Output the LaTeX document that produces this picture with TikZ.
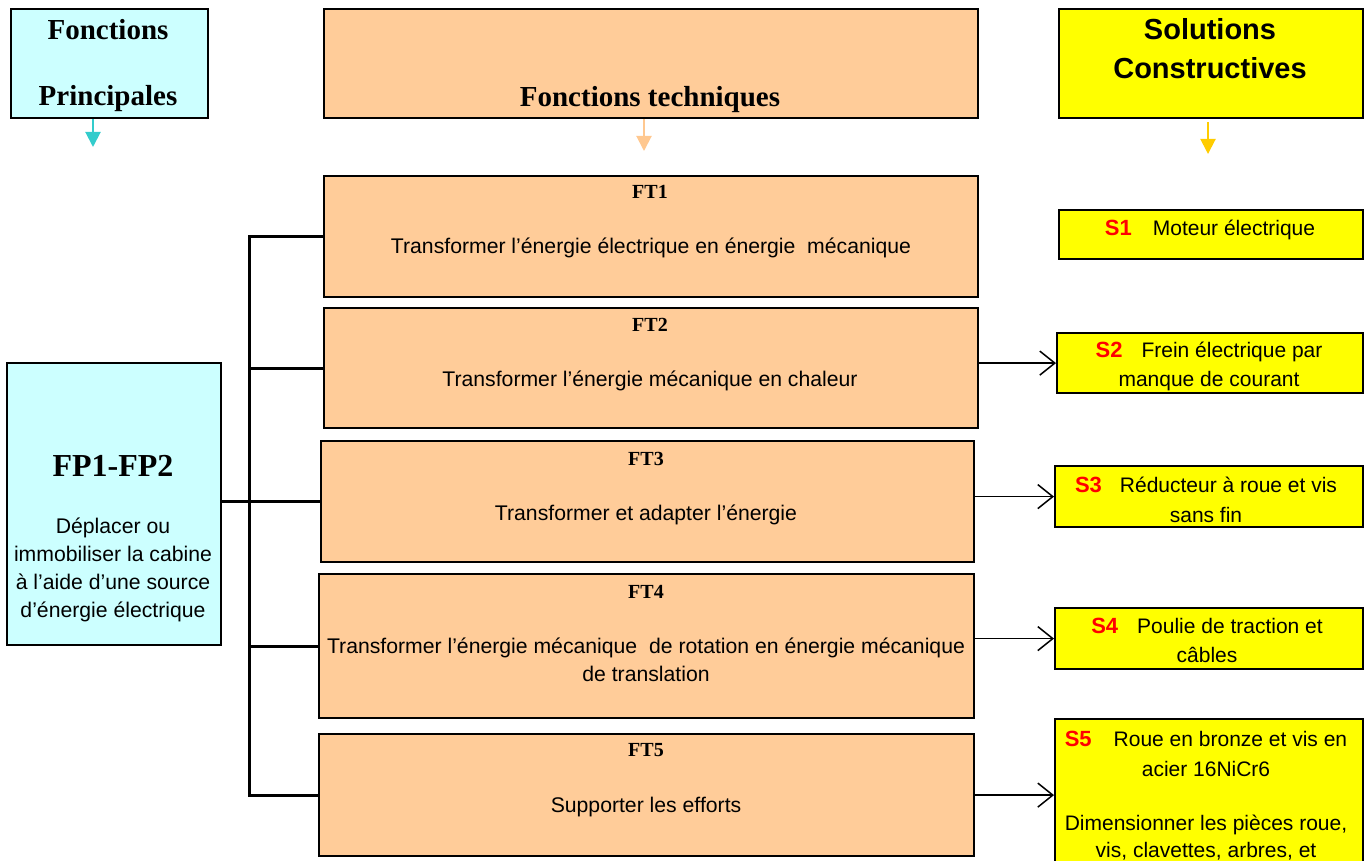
\documentclass[tikz,border=0pt]{standalone}
\usepackage{fontspec}
\setmainfont{Liberation Sans}
\newfontfamily\titlefont{Liberation Serif}
\usetikzlibrary{arrows.meta}
\definecolor{fpcyan}{HTML}{CCFFFF}
\definecolor{ftorange}{HTML}{FFCC99}
\definecolor{scyellow}{HTML}{FFFF00}
\definecolor{cyanarrow}{HTML}{33CCCC}
\definecolor{orangearrow}{HTML}{FFC890}
\definecolor{yellowarrow}{HTML}{FFCC00}
\newcommand{\slab}[1]{{\color{red}\bfseries\fontsize{22}{29}\selectfont #1}}
\begin{document}
\begin{tikzpicture}[x=1pt,y=-1pt,
    box/.style={draw,line width=2.2pt,rectangle,inner sep=0pt,anchor=north west},
    fpbox/.style={box,fill=fpcyan},
    ftbox/.style={box,fill=ftorange},
    scbox/.style={box,fill=scyellow},
    txt/.style={inner sep=0pt,anchor=base,align=center},
    headtext/.style={txt,font=\titlefont\bfseries\fontsize{29}{39}\selectfont},
    sctext/.style={txt,font=\bfseries\fontsize{29}{39}\selectfont},
    ftlabel/.style={txt,font=\titlefont\bfseries\fontsize{20}{24}\selectfont},
    bodytext/.style={txt,font=\fontsize{21.2}{28}\selectfont},
    soltext/.style={txt,font=\fontsize{21}{29}\selectfont},
    headarrow/.style={line width=2pt,-{Triangle[length=15pt,width=15pt]}},
    link/.style={line width=3pt},
    solarrow/.style={line width=1.5pt,-{Straight Barb[length=15pt,width=24pt,line width=1.5pt]}}]
    \useasboundingbox (0,0) rectangle (1367,861);
    \clip (0,0) rectangle (1367,861);
    % headers
    \node[fpbox,minimum width=197,minimum height=109] (fphead) at (10,8) {};
    \node[headtext] (fphead1) at (108,40) {Fonctions};
    \node[headtext] (fphead2) at (108,106) {Principales};
    \node[ftbox,minimum width=654,minimum height=109] (fthead) at (323,8) {};
    \node[headtext] (fthead1) at (650,107) {Fonctions techniques};
    \node[scbox,minimum width=304,minimum height=109] (schead) at (1058,8) {};
    \node[sctext] (schead1) at (1210,40) {Solutions};
    \node[sctext] (schead2) at (1210,79) {Constructives};
    \coordinate (fpend) at (93,147);
    \coordinate (ftend) at (644,151);
    \coordinate (scend) at (1208,154);
    \draw[headarrow,cyanarrow] (fphead.south -| fpend) -- (fpend);
    \draw[headarrow,orangearrow] (fthead.south -| ftend) -- (ftend);
    \draw[headarrow,yellowarrow,shorten <=3pt] (schead.south -| scend) -- (scend);
    % fonction principale
    \node[fpbox,minimum width=214,minimum height=282] (fp) at (6,362) {};
    \node[txt,font=\titlefont\bfseries\fontsize{32}{38}\selectfont] (fptitle) at (113,476) {FP1-FP2};
    \node[bodytext] (fptext) at (113,617) {Déplacer ou\\immobiliser la cabine\\à l’aide d’une source\\d’énergie électrique};
    % fonctions techniques
    \node[ftbox,minimum width=654,minimum height=121] (ft1) at (323,175) {};
    \node[ftlabel] (ft1lab) at (650,199) {FT1};
    \node[bodytext] (ft1text) at (651,253) {Transformer l’énergie électrique en énergie~ mécanique};
    \node[ftbox,minimum width=654,minimum height=120] (ft2) at (323,307) {};
    \node[ftlabel] (ft2lab) at (650,331) {FT2};
    \node[bodytext] (ft2text) at (650,386) {Transformer l’énergie mécanique en chaleur};
    \node[ftbox,minimum width=653,minimum height=121] (ft3) at (320,440) {};
    \node[ftlabel] (ft3lab) at (646,465) {FT3};
    \node[bodytext] (ft3text) at (646,520) {Transformer et adapter l’énergie};
    \node[ftbox,minimum width=655,minimum height=144] (ft4) at (318,573) {};
    \node[ftlabel] (ft4lab) at (646,598) {FT4};
    \node[bodytext] (ft4text) at (646,681) {Transformer l’énergie mécanique~ de rotation en énergie mécanique\\de translation};
    \node[ftbox,minimum width=655,minimum height=122] (ft5) at (318,733) {};
    \node[ftlabel] (ft5lab) at (646,756) {FT5};
    \node[bodytext] (ft5text) at (646,812) {Supporter les efforts};
    % solutions constructives
    \node[scbox,minimum width=304,minimum height=49] (s1) at (1058,209) {};
    \node[soltext] (s1text) at (1210,235) {\slab{S1}\hspace{21pt}Moteur électrique};
    \node[scbox,minimum width=306,minimum height=60] (s2) at (1056,332) {};
    \node[soltext] (s2text) at (1209,386) {\slab{S2}\hspace{19pt}Frein électrique par\\manque de courant};
    \node[scbox,minimum width=308,minimum height=61] (s3) at (1054,465) {};
    \node[soltext] (s3text) at (1206,522) {\slab{S3}\hspace{18pt}Réducteur à roue et vis\\[1pt]sans fin};
    \node[scbox,minimum width=308,minimum height=61] (s4) at (1054,607) {};
    \node[soltext] (s4text) at (1207,662) {\slab{S4}\hspace{19pt}Poulie de traction et\\câbles};
    \node[scbox,minimum width=308,minimum height=200] (s5) at (1054,718) {};
    \node[soltext] (s5text) at (1206,857) {\slab{S5}\hspace{22pt}Roue en bronze et vis en\\[1pt]acier 16NiCr6\\[25pt]Dimensionner les pièces roue,\\[-2pt]vis, clavettes, arbres, et};
    % liaisons
    \coordinate (trunk) at (249,0);
    \draw[link] (ft1.west) -- (trunk |- ft1.west) -- (trunk |- ft5.west) -- (ft5.west);
    \draw[link] (trunk |- ft2.west) -- (ft2.west);
    \draw[link] (trunk |- ft4.west) -- (ft4.west);
    \draw[link] (fp.east |- ft3.west) -- (ft3.west);
    \draw[solarrow] (ft2.east |- s2.west) -- (s2.west);
    \draw[solarrow] (ft3.east |- s3.west) -- (s3.west);
    \draw[solarrow] (ft4.east |- s4.west) -- (s4.west);
    \draw[solarrow] (ft5.east) -- (ft5.east -| s5.west);
\end{tikzpicture}
\end{document}
